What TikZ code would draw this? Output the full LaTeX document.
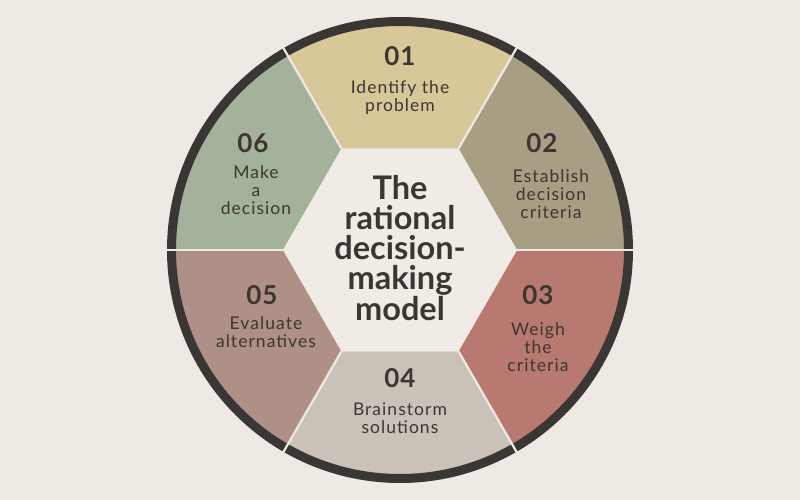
\documentclass[tikz,border=0pt]{standalone}
\usepackage{fontspec}
\setmainfont{Lato}
\newfontfamily\bodyfont[LetterSpace=6]{Lato}
\newfontfamily\numfont[LetterSpace=4]{Lato}
\usetikzlibrary{positioning}
\usetikzlibrary{calc}

\definecolor{bgcol}{RGB}{238,233,227}
\definecolor{hexcol}{RGB}{240,235,229}
\definecolor{ringcol}{RGB}{58,54,51}
\definecolor{inkcol}{RGB}{59,54,49}
\definecolor{segA}{RGB}{216,200,153}
\definecolor{segB}{RGB}{167,158,132}
\definecolor{segC}{RGB}{184,122,112}
\definecolor{segD}{RGB}{202,194,185}
\definecolor{segE}{RGB}{174,144,135}
\definecolor{segF}{RGB}{164,178,155}

\tikzset{
  num/.style={inner sep=0pt, text=inkcol, font=\numfont\fontsize{26}{26}\selectfont\bfseries},
  txt/.style={inner sep=0pt, text=inkcol, align=center, font=\bodyfont\fontsize{17.5}{17.8}\selectfont},
  title/.style={inner sep=0pt, text=inkcol, align=center, font=\fontsize{32.5}{30}\selectfont\bfseries},
  sep/.style={draw=bgcol, line width=2.2pt}
}

\begin{document}
\begin{tikzpicture}[x=1pt,y=1pt]
		\useasboundingbox (-400,-250) rectangle (400,250);
		\fill[bgcol] (-400,-250) rectangle (400,250);

		% Define the corners of the hexagon and the outer ends of the spokes
		\foreach \i in {0,...,5} {
			\coordinate (h\i) at (\i*60:117);
			\coordinate (r\i) at (\i*60:242);
		}

		% The six segments
		\foreach \a/\col in {60/segA, 0/segB, -60/segC, -120/segD, -180/segE, -240/segF}
			\fill[\col] (\a:117) -- (\a:229) arc[start angle=\a, end angle=\a+60, radius=229] -- (\a+60:117) -- cycle;

		% Center hexagon and outer ring
		\fill[hexcol] (h0) -- (h1) -- (h2) -- (h3) -- (h4) -- (h5) -- cycle;
		\draw[ringcol, line width=9pt] (0,0) circle (228.5);

		% The spokes
		\foreach \i in {0,...,5}
			\draw[sep] (h\i) -- (r\i);

		% Labels
		\node[title] (model) at (0,2) {The\\rational\\decision-\\making\\model};

		\node[num] (n1) at (0,194) {01};
		\node[txt, below=15pt of n1] (t1) {Identify the\\problem};
		\node[num] (n2) at (142,107) {02};
		\node[txt, below=17pt of n2, xshift=9pt] (t2) {Establish\\decision\\criteria};
		\node[num] (n3) at (138,-45) {03};
		\node[txt, below=18pt of n3] (t3) {Weigh\\the\\criteria};
		\node[num] (n4) at (0,-128) {04};
		\node[txt, below=15pt of n4] (t4) {Brainstorm\\solutions};
		\node[num] (n5) at (-138,-45) {05};
		\node[txt, below=12pt of n5, xshift=4pt] (t5) {Evaluate\\alternatives};
		\node[num] (n6) at (-147,107) {06};
		\node[txt, below=13pt of n6, xshift=3pt] (t6) {Make\\a\\decision};
	\end{tikzpicture}
\end{document}
